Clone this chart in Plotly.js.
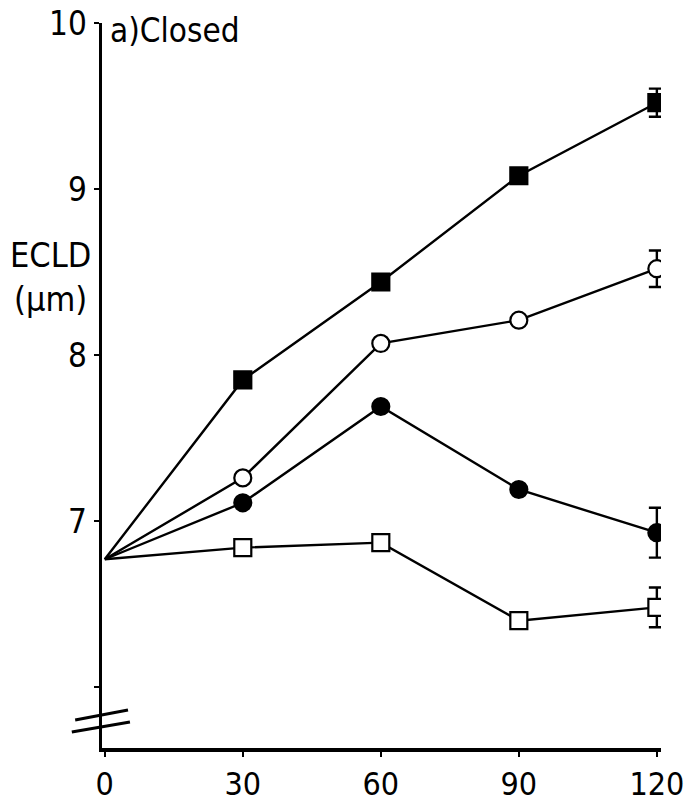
<!DOCTYPE html>
<html>
<head>
<meta charset="utf-8">
<script src="https://cdn.plot.ly/plotly-3.0.1.min.js"></script>
<style>
  html, body { margin: 0; padding: 0; background: #ffffff; }
  #chart { width: 685px; height: 803px; }
  #chart text { font-stretch: condensed !important; }
</style>
</head>
<body>
<div id="chart"></div>
<script>
// Time (min)
var timeMin = [0, 30, 60, 90, 120];
// ECLD (µm) per treatment series
var filledSquare = [6.77, 7.85, 8.44, 9.08, 9.52];
var hollowCircle = [6.77, 7.26, 8.07, 8.21, 8.52];
var filledCircle = [6.77, 7.11, 7.69, 7.19, 6.93];
var hollowSquare = [6.77, 6.84, 6.87, 6.40, 6.48];
// error bars (only at the last time point)
var errFilledSquare = [NaN, NaN, NaN, NaN, 0.085];
var errHollowCircle = [NaN, NaN, NaN, NaN, 0.11];
var errFilledCircle = [NaN, NaN, NaN, NaN, 0.15];
var errHollowSquare = [NaN, NaN, NaN, NaN, 0.12];
// tick labels
var xTickVals = [0, 30, 60, 90, 120];
var xTickText = ['0', '30', '60', '90', '120'];
var yTickVals = [6, 7, 8, 9, 10];
var yTickText = ['', '7', '8', '9', '10'];

var FONT = '"DejaVu Sans Condensed", "Liberation Sans Narrow", "DejaVu Sans", sans-serif';

function series(y, err, symbol, fill) {
  var lineTrace = {
    x: timeMin, y: y, mode: 'lines', type: 'scatter',
    line: { color: '#000', width: 2.4 }, hoverinfo: 'skip', showlegend: false
  };
  var markTrace = {
    x: timeMin.slice(1), y: y.slice(1), mode: 'markers', type: 'scatter',
    marker: { symbol: symbol, size: 17, color: fill, line: { color: '#000', width: 2.2 } },
    error_y: { type: 'data', array: err.slice(1), visible: true, color: '#000', thickness: 2.4, width: 8 },
    showlegend: false
  };
  return [lineTrace, markTrace];
}

var data = [].concat(
  series(filledSquare, errFilledSquare, 'square', '#000'),
  series(hollowCircle, errHollowCircle, 'circle', '#fff'),
  series(filledCircle, errFilledCircle, 'circle', '#000'),
  series(hollowSquare, errHollowSquare, 'square', '#fff')
);

var layout = {
  width: 685, height: 803,
  paper_bgcolor: '#fff', plot_bgcolor: '#fff',
  margin: { l: 102, r: 24, t: 23, b: 55 },
  font: { family: FONT, color: '#000', size: 30 },
  showlegend: false,
  xaxis: {
    range: [-0.6, 120.9], showgrid: false, zeroline: false,
    showline: true, linecolor: '#000', linewidth: 3.5,
    ticks: 'outside', ticklen: 5, tickwidth: 2.5, tickcolor: '#000',
    tickvals: xTickVals, ticktext: xTickText, ticklabeloverflow: 'allow',
    tickfont: { family: FONT, size: 32, color: '#000' }
  },
  yaxis: {
    range: [5.633, 10], showgrid: false, zeroline: false,
    showline: true, linecolor: '#000', linewidth: 3.5,
    ticks: 'outside', ticklen: 5, tickwidth: 2.5, tickcolor: '#000',
    tickvals: yTickVals, ticktext: yTickText, ticklabeloverflow: 'allow',
    tickfont: { family: FONT, size: 33, color: '#000' }
  },
  shapes: [
    { type: 'line', xref: 'paper', yref: 'paper', x0: -0.048, y0: 0.0386, x1: 0.0465, y1: 0.0524,
      line: { color: '#000', width: 3 } },
    { type: 'line', xref: 'paper', yref: 'paper', x0: -0.054, y0: 0.022, x1: 0.050, y1: 0.0359,
      line: { color: '#000', width: 3 } }
  ],
  annotations: [
    { text: 'a)Closed', xref: 'paper', yref: 'paper', x: 0.010, y: 0.99,
      xanchor: 'left', yanchor: 'middle', showarrow: false,
      font: { family: FONT, size: 33, color: '#000' } },
    { text: 'ECLD<br>(µm)', xref: 'paper', yref: 'paper', x: -0.093, y: 0.65,
      xanchor: 'center', yanchor: 'middle', showarrow: false, align: 'center',
      font: { family: FONT, size: 34, color: '#000' } }
  ]
};

Plotly.newPlot('chart', data, layout, { staticPlot: true, displayModeBar: false });
</script>
</body>
</html>
